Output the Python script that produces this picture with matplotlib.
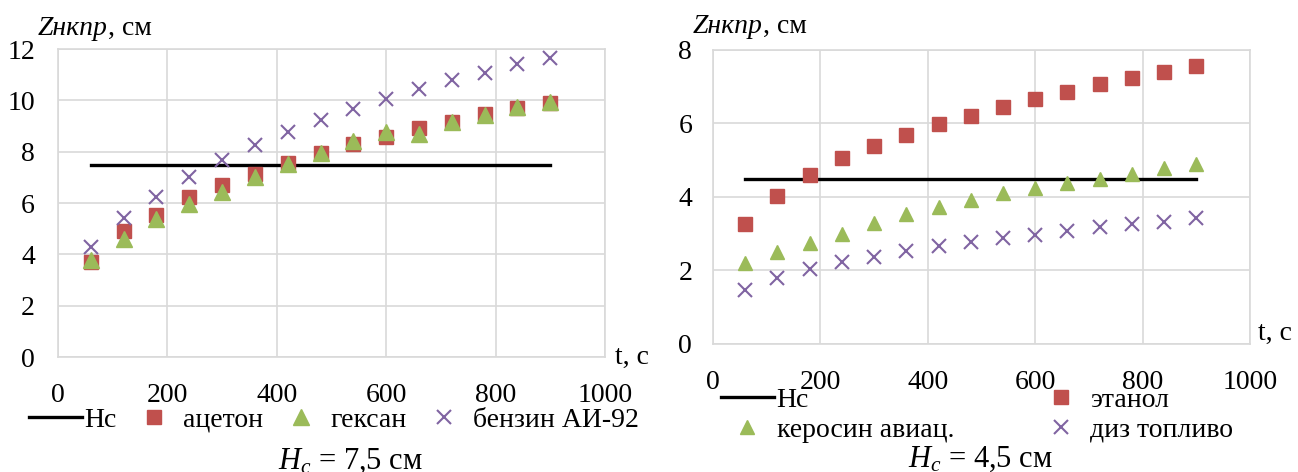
import matplotlib
matplotlib.use('Agg')
import matplotlib.pyplot as plt

plt.rcParams['font.family'] = 'Liberation Serif'
plt.rcParams['mathtext.fontset'] = 'custom'
plt.rcParams['mathtext.rm'] = 'Liberation Serif'
plt.rcParams['mathtext.it'] = 'Liberation Serif:italic'

# время, с
t = [60, 120, 180, 240, 300, 360, 420, 480, 540, 600, 660, 720, 780, 840, 900]

# Hc = 7,5 см
hc_1 = 7.5
aceton = [3.7, 4.9, 5.53, 6.23, 6.7, 7.15, 7.57, 7.95, 8.3, 8.57, 8.92, 9.15, 9.45, 9.7, 9.9]
geksan = [3.78, 4.58, 5.38, 5.96, 6.43, 7.0, 7.52, 7.95, 8.42, 8.77, 8.69, 9.15, 9.44, 9.74, 9.93]
benzin = [4.28, 5.42, 6.22, 7.02, 7.66, 8.25, 8.77, 9.22, 9.68, 10.05, 10.44, 10.79, 11.06, 11.41, 11.65]

# Hc = 4,5 см
hc_2 = 4.5
etanol = [3.27, 4.03, 4.6, 5.06, 5.39, 5.69, 5.98, 6.2, 6.45, 6.67, 6.86, 7.07, 7.24, 7.4, 7.57]
kerosin = [2.2, 2.5, 2.75, 3.0, 3.28, 3.53, 3.74, 3.92, 4.1, 4.25, 4.38, 4.49, 4.62, 4.79, 4.9]
diz = [1.47, 1.8, 2.04, 2.24, 2.38, 2.53, 2.67, 2.78, 2.88, 2.97, 3.07, 3.18, 3.26, 3.33, 3.42]

RED = '#C0504D'
GREEN = '#9BBB59'
PURPLE = '#8064A2'
GRID = '#d9d9d9'
FS = 20

fig = plt.figure(figsize=(12.98, 4.72), dpi=100)
ax1 = fig.add_axes([0.0447, 0.2436, 0.4214, 0.6525])
ax2 = fig.add_axes([0.5493, 0.2712, 0.4137, 0.6229])


def oformit(ax, ymax, ypad):
    ax.set_xlim(0, 1000)
    ax.set_ylim(0, ymax)
    ax.set_xticks(range(0, 1001, 200))
    ax.set_yticks(range(0, ymax + 1, 2))
    ax.grid(True, color=GRID, lw=1.2)
    ax.set_axisbelow(True)
    for s in ax.spines.values():
        s.set_color(GRID)
        s.set_linewidth(1.2)
    ax.tick_params(length=0, labelsize=FS)
    ax.tick_params(axis='x', pad=18.5)
    ax.tick_params(axis='y', pad=ypad)


def podpis_z(ax, x, y):
    txt = ax.text(x, y, 'Zнкпр', fontsize=FS, style='italic',
                  transform=ax.transAxes, va='bottom', ha='left')
    ax.annotate(', см', xy=(1, 0), xycoords=txt, fontsize=FS,
                va='bottom', ha='left')


# левый график
l_hc, = ax1.plot([t[0], t[-1]], [hc_1, hc_1], color='black', lw=2.4, label='Нс')
l_ac, = ax1.plot(t, aceton, 's', color=RED, ms=9.5, ls='none', label='ацетон')
l_gk, = ax1.plot(t, geksan, '^', color=GREEN, ms=11, ls='none', label='гексан')
l_bz, = ax1.plot(t, benzin, 'x', color=PURPLE, ms=10, mew=1.5, ls='none', label='бензин АИ-92')
oformit(ax1, 12, 16.5)
podpis_z(ax1, -0.037, 1.026)
ax1.text(1.018, 0.0, 't, с', fontsize=FS, transform=ax1.transAxes, va='center', ha='left')

fig.legend([l_hc, l_ac, l_gk, l_bz], ['Нс', 'ацетон', 'гексан', 'бензин АИ-92'],
           loc='center left', bbox_to_anchor=(29 / 1298, 1 - 420 / 472),
           ncol=4, frameon=False, fontsize=FS, handlelength=1.9,
           handletextpad=0.1, columnspacing=0.4, borderpad=0, borderaxespad=0)
fig.text(350 / 1298, 1 - 461 / 472, '$H_c$ = 7,5 см', fontsize=22, ha='center', va='center')

# правый график
r_hc, = ax2.plot([t[0], t[-1]], [hc_2, hc_2], color='black', lw=2.4, label='Нс')
r_et, = ax2.plot(t, etanol, 's', color=RED, ms=9.5, ls='none', label='этанол')
r_kr, = ax2.plot(t, kerosin, '^', color=GREEN, ms=9.5, ls='none', label='керосин авиац.')
r_dz, = ax2.plot(t, diz, 'x', color=PURPLE, ms=10, mew=1.5, ls='none', label='диз топливо')
oformit(ax2, 8, 15)
podpis_z(ax2, -0.037, 1.037)
ax2.text(1.015, 0.037, 't, с', fontsize=FS, transform=ax2.transAxes, va='center', ha='left')

fig.legend([r_hc, r_kr, r_et, r_dz], ['Нс', 'керосин авиац.', 'этанол', 'диз топливо'],
           loc='center left', bbox_to_anchor=(721 / 1298, 1 - 415 / 472),
           ncol=2, frameon=False, fontsize=FS, handlelength=1.9,
           handletextpad=0.1, columnspacing=2.9, labelspacing=0.15,
           borderpad=0, borderaxespad=0)
fig.text(980 / 1298, 1 - 459 / 472, '$H_c$ = 4,5 см', fontsize=22, ha='center', va='center')

plt.savefig('out.png', dpi=100, facecolor='white')
